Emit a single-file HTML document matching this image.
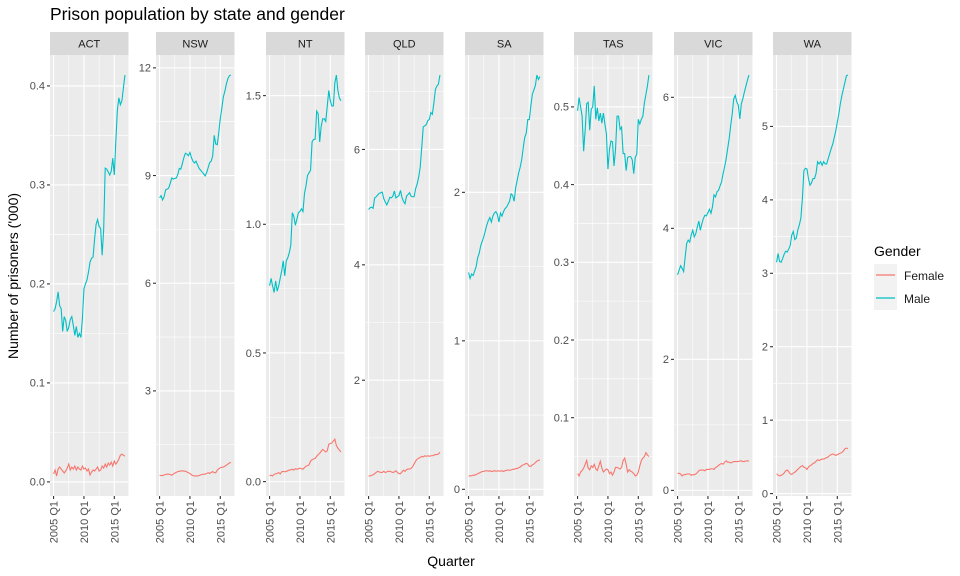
<!DOCTYPE html>
<html><head><meta charset="utf-8"><style>
html,body{margin:0;padding:0;background:#fff;}
svg{display:block;font-family:"Liberation Sans",Arial,sans-serif;}
</style></head><body>
<svg id="chart" width="960" height="576" viewBox="0 0 960 576" xmlns="http://www.w3.org/2000/svg">
<rect x="0" y="0" width="960" height="576" fill="#fff"/>
<text x="50" y="20" font-size="17.5" fill="#000">Prison population by state and gender</text>
<text transform="translate(18,276) rotate(-90)" text-anchor="middle" font-size="14" fill="#000">Number of prisoners ('000)</text>
<text x="451" y="566" text-anchor="middle" font-size="14" fill="#000">Quarter</text>
<g>
<text x="874" y="256" font-size="14" fill="#000">Gender</text>
<rect x="874" y="264" width="23" height="46" fill="#f2f2f2"/>
<line x1="876" y1="275" x2="895" y2="275" stroke="#F8766D" stroke-width="1.2"/>
<line x1="876" y1="298" x2="895" y2="298" stroke="#00BFC4" stroke-width="1.2"/>
<text x="904" y="280" font-size="12" fill="#1a1a1a">Female</text>
<text x="904" y="303" font-size="12" fill="#1a1a1a">Male</text>
</g>
<g id="panels"></g>
</svg>
<script>
const states = ["ACT","NSW","NT","QLD","SA","TAS","VIC","WA"];
const xTickLabels = ["2005 Q1","2010 Q1","2015 Q1"];
const xTickIdx = [0,20,40];
const nQuarters = 48;
const yTicks = {
 ACT:[0,0.1,0.2,0.3,0.4], NSW:[3,6,9,12], NT:[0,0.5,1.0,1.5], QLD:[2,4,6],
 SA:[0,1,2], TAS:[0.1,0.2,0.3,0.4,0.5], VIC:[0,2,4,6], WA:[0,1,2,3,4,5]
};
const yTickLabels = {
 ACT:["0.0","0.1","0.2","0.3","0.4"], NSW:["3","6","9","12"], NT:["0.0","0.5","1.0","1.5"], QLD:["2","4","6"],
 SA:["0","1","2"], TAS:["0.1","0.2","0.3","0.4","0.5"], VIC:["0","2","4","6"], WA:["0","1","2","3","4","5"]
};
const maleACT=[0.172,0.175,0.182,0.192,0.178,0.175,0.152,0.167,0.163,0.152,0.156,0.164,0.167,0.158,0.148,0.157,0.146,0.150,0.146,0.165,0.195,0.200,0.204,0.212,0.222,0.226,0.227,0.245,0.260,0.265,0.258,0.256,0.229,0.255,0.317,0.316,0.313,0.310,0.314,0.327,0.310,0.344,0.375,0.388,0.381,0.385,0.398,0.411];
const femaleACT=[0.008,0.012,0.006,0.013,0.015,0.013,0.011,0.009,0.011,0.014,0.018,0.012,0.015,0.013,0.016,0.012,0.015,0.013,0.012,0.016,0.013,0.014,0.011,0.013,0.007,0.010,0.012,0.011,0.013,0.015,0.011,0.012,0.016,0.014,0.018,0.015,0.019,0.017,0.020,0.016,0.021,0.018,0.020,0.023,0.027,0.028,0.027,0.026];
const maleNSW=[8.38,8.44,8.32,8.41,8.6,8.62,8.65,8.78,8.93,8.9,8.92,8.93,9.03,9.2,9.18,9.33,9.5,9.62,9.6,9.55,9.64,9.5,9.4,9.35,9.4,9.3,9.2,9.15,9.1,9.05,8.99,9.08,9.22,9.36,9.40,9.55,10.12,9.88,9.86,10.2,10.59,10.87,11.19,11.35,11.55,11.7,11.78,11.8];
const femaleNSW=[0.65,0.64,0.64,0.66,0.67,0.68,0.68,0.67,0.65,0.68,0.71,0.73,0.75,0.76,0.77,0.77,0.77,0.76,0.74,0.72,0.70,0.66,0.64,0.63,0.63,0.63,0.64,0.66,0.67,0.68,0.68,0.70,0.72,0.70,0.73,0.75,0.72,0.72,0.79,0.83,0.86,0.87,0.88,0.90,0.93,0.96,0.99,1.01];
const maleNT=[0.761,0.79,0.76,0.735,0.78,0.74,0.76,0.79,0.82,0.858,0.80,0.858,0.87,0.89,0.92,1.045,1.03,0.996,1.02,1.045,1.05,1.06,1.05,1.12,1.15,1.19,1.20,1.21,1.32,1.33,1.33,1.44,1.43,1.32,1.38,1.41,1.41,1.40,1.46,1.52,1.48,1.46,1.46,1.55,1.58,1.52,1.49,1.48];
const femaleNT=[0.023,0.025,0.022,0.028,0.03,0.032,0.035,0.03,0.038,0.04,0.038,0.04,0.042,0.045,0.046,0.048,0.045,0.05,0.048,0.05,0.052,0.05,0.048,0.055,0.06,0.062,0.065,0.08,0.085,0.088,0.09,0.098,0.105,0.11,0.118,0.125,0.12,0.115,0.12,0.145,0.148,0.15,0.158,0.165,0.14,0.13,0.122,0.115];
const maleQLD=[4.96,4.99,5.0,4.98,5.16,5.18,5.21,5.24,5.25,5.26,5.15,5.09,5.04,5.1,5.17,5.16,5.19,5.28,5.16,5.18,5.2,5.29,5.17,5.1,5.06,5.19,5.22,5.25,5.19,5.18,5.18,5.32,5.4,5.52,5.69,6.03,6.39,6.41,6.43,6.50,6.52,6.64,6.61,6.8,7.04,7.10,7.13,7.29];
const femaleQLD=[0.34,0.34,0.35,0.36,0.38,0.40,0.42,0.41,0.40,0.40,0.42,0.40,0.41,0.42,0.42,0.41,0.40,0.41,0.43,0.40,0.38,0.38,0.41,0.44,0.42,0.45,0.46,0.46,0.47,0.50,0.55,0.60,0.63,0.65,0.66,0.68,0.67,0.69,0.68,0.69,0.68,0.69,0.69,0.70,0.71,0.71,0.72,0.75];
const maleSA=[1.46,1.42,1.45,1.44,1.47,1.5,1.56,1.59,1.64,1.67,1.70,1.74,1.78,1.81,1.83,1.80,1.84,1.86,1.87,1.85,1.80,1.86,1.84,1.87,1.89,1.90,1.92,1.94,1.99,1.98,1.94,2.03,2.08,2.13,2.17,2.22,2.30,2.37,2.40,2.49,2.49,2.58,2.66,2.69,2.72,2.79,2.76,2.78];
const femaleSA=[0.09,0.09,0.092,0.095,0.095,0.10,0.105,0.11,0.115,0.12,0.12,0.125,0.125,0.122,0.125,0.12,0.122,0.125,0.122,0.124,0.124,0.122,0.125,0.12,0.125,0.128,0.13,0.128,0.13,0.135,0.135,0.14,0.14,0.145,0.15,0.16,0.165,0.17,0.175,0.17,0.155,0.155,0.165,0.17,0.18,0.19,0.195,0.198];
const maleTAS=[0.495,0.512,0.50,0.488,0.443,0.47,0.504,0.506,0.47,0.497,0.50,0.527,0.484,0.499,0.482,0.492,0.479,0.492,0.478,0.465,0.42,0.445,0.456,0.455,0.424,0.445,0.488,0.488,0.471,0.474,0.44,0.44,0.418,0.435,0.436,0.436,0.432,0.414,0.435,0.439,0.484,0.478,0.484,0.488,0.505,0.516,0.527,0.541];
const femaleTAS=[0.028,0.025,0.03,0.032,0.035,0.04,0.045,0.035,0.033,0.038,0.036,0.04,0.034,0.032,0.038,0.044,0.035,0.03,0.032,0.034,0.033,0.028,0.03,0.026,0.03,0.036,0.036,0.035,0.034,0.036,0.045,0.048,0.04,0.03,0.033,0.031,0.030,0.028,0.025,0.026,0.030,0.038,0.045,0.048,0.05,0.055,0.052,0.05];
const maleVIC=[3.29,3.36,3.43,3.39,3.34,3.56,3.77,3.82,3.79,3.90,3.97,3.87,3.92,4.02,4.11,3.97,4.07,4.15,4.20,4.19,4.24,4.29,4.23,4.33,4.51,4.48,4.56,4.58,4.65,4.71,4.84,4.94,5.06,5.22,5.37,5.57,5.75,5.98,6.03,5.93,5.88,5.67,5.90,5.98,6.08,6.17,6.26,6.34];
const femaleVIC=[0.26,0.26,0.25,0.22,0.24,0.24,0.25,0.25,0.25,0.23,0.24,0.24,0.25,0.27,0.30,0.31,0.31,0.31,0.30,0.32,0.32,0.32,0.33,0.33,0.32,0.35,0.36,0.38,0.40,0.41,0.40,0.43,0.45,0.43,0.43,0.42,0.43,0.44,0.44,0.44,0.44,0.45,0.45,0.44,0.44,0.45,0.45,0.45];
const maleWA=[3.15,3.27,3.16,3.15,3.20,3.26,3.30,3.29,3.33,3.38,3.52,3.57,3.46,3.48,3.59,3.66,3.75,4.02,4.40,4.43,4.42,4.29,4.20,4.23,4.29,4.29,4.36,4.52,4.49,4.52,4.47,4.52,4.49,4.49,4.56,4.63,4.70,4.76,4.85,4.94,5.06,5.17,5.31,5.42,5.51,5.60,5.69,5.70];
const femaleWA=[0.27,0.25,0.24,0.25,0.26,0.28,0.31,0.32,0.30,0.27,0.26,0.28,0.29,0.31,0.33,0.35,0.37,0.38,0.36,0.35,0.33,0.36,0.38,0.39,0.41,0.42,0.44,0.46,0.45,0.46,0.47,0.47,0.48,0.49,0.50,0.52,0.53,0.54,0.53,0.52,0.53,0.54,0.55,0.56,0.58,0.61,0.62,0.61];

const maleSeries={ACT:maleACT,NSW:maleNSW,NT:maleNT,QLD:maleQLD,SA:maleSA,TAS:maleTAS,VIC:maleVIC,WA:maleWA};
const femaleSeries={ACT:femaleACT,NSW:femaleNSW,NT:femaleNT,QLD:femaleQLD,SA:femaleSA,TAS:femaleTAS,VIC:femaleVIC,WA:femaleWA};

const NS="http://www.w3.org/2000/svg";
const panelLefts=[50,156,266,365,465,574,674,773];
const panelW=78.5, plotTop=55, plotBottom=496, stripTop=32;
const root=document.getElementById('panels');
function mk(tag,attrs,parent){const e=document.createElementNS(NS,tag);for(const k in attrs)e.setAttribute(k,attrs[k]);parent.appendChild(e);return e;}

states.forEach((st,si)=>{
  const L=panelLefts[si];
  const g=mk('g',{},root);
  
  
  const m=maleSeries[st], f=femaleSeries[st];
  const all=m.concat(f);
  let lo=Math.min(...all), hi=Math.max(...all);
  const pad=(hi-lo)*0.05; lo-=pad; hi+=pad;
  const xPad=(nQuarters-1)*0.05;
  const xs=i=>L+(i+xPad)/(nQuarters-1+2*xPad)*panelW;
  const ys=v=>plotBottom-(v-lo)/(hi-lo)*(plotBottom-plotTop);
  const bg=mk('rect',{x:L,y:plotTop,width:panelW,height:plotBottom-plotTop,fill:'#ebebeb'},g);
  
  
  const strip=mk('rect',{x:L,y:stripTop,width:panelW,height:plotTop-stripTop,fill:'#d9d9d9'},g);
  
  
  const st_t=mk('text',{x:L+panelW/2,y:47.5,'text-anchor':'middle','font-size':'11','fill':'#1a1a1a'},g);
  st_t.textContent=st;
  
  
  const cid='clip'+si;
  const cp=mk('clipPath',{id:cid},g); mk('rect',{x:L,y:plotTop,width:panelW,height:plotBottom-plotTop},cp);
  const grid=mk('g',{'clip-path':'url(#'+cid+')'},g);
  const yt=yTicks[st]; const step=yt.length>1?yt[1]-yt[0]:1;
  for(let k=-1;k<yt.length;k++){
    const v=yt[0]+step*(k+0.5);
    if(v>lo&&v<hi){const l=mk('line',{x1:L,x2:L+panelW,y1:ys(v),y2:ys(v),stroke:'#fff','stroke-width':0.55},grid);
      
      }
  }
  [10,30].forEach(i=>{const l=mk('line',{x1:xs(i),x2:xs(i),y1:plotTop,y2:plotBottom,stroke:'#fff','stroke-width':0.55},grid);
    
    });
  yt.forEach((v,k)=>{
    const y=ys(v);
    const l=mk('line',{x1:L,x2:L+panelW,y1:y,y2:y,stroke:'#fff','stroke-width':1.1},grid);
    
    
    const tk=mk('line',{x1:L-3,x2:L,y1:y,y2:y,stroke:'#333','stroke-width':1.1},g);
    
    
    const t=mk('text',{x:L-5,y:y+3.8,'text-anchor':'end','font-size':'11','fill':'#4d4d4d'},g);
    t.textContent=yTickLabels[st][k];
    
    
  });
  xTickIdx.forEach((i,k)=>{
    const x=xs(i);
    const l=mk('line',{x1:x,x2:x,y1:plotTop,y2:plotBottom,stroke:'#fff','stroke-width':1.1},grid);
    
    
    const tk=mk('line',{x1:x,x2:x,y1:plotBottom,y2:plotBottom+3,stroke:'#333','stroke-width':1.1},g);
    
    
    const t=mk('text',{transform:'translate('+(x+4)+','+(plotBottom+5)+') rotate(-90)','text-anchor':'end','font-size':'11','fill':'#4d4d4d'},g);
    t.textContent=xTickLabels[k];
    
    
  });
  const pts=arr=>arr.map((v,i)=>xs(i).toFixed(2)+','+ys(v).toFixed(2)).join(' ');
  const pf=mk('polyline',{points:pts(f),fill:'none',stroke:'#F8766D','stroke-width':1.1},grid);
  
  
  const pm=mk('polyline',{points:pts(m),fill:'none',stroke:'#00BFC4','stroke-width':1.1},grid);
  
  
});
</script>
</body></html>
